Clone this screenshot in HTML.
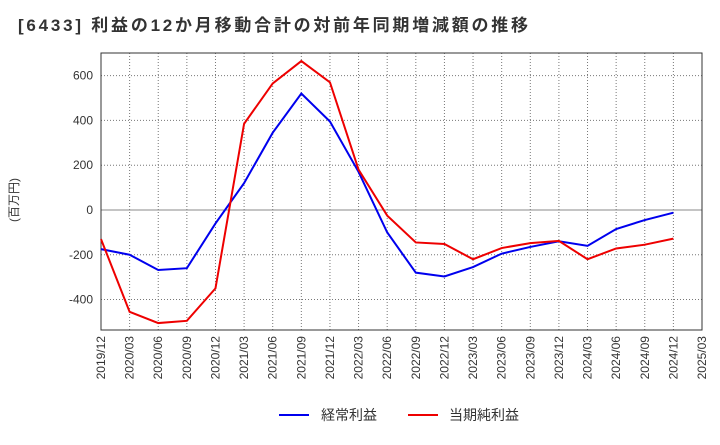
<!DOCTYPE html>
<html><head><meta charset="utf-8"><style>
body{margin:0;background:#fff;font-family:"Liberation Sans","Noto Sans CJK JP",sans-serif}
svg text{font-family:"Liberation Sans","Noto Sans CJK JP",sans-serif}
</style></head><body>
<svg id="c" width="720" height="440" xmlns="http://www.w3.org/2000/svg">
<text x="18" y="31" font-size="17" font-weight="bold" fill="#333" textLength="510" lengthAdjust="spacing">[6433]  利益の12か月移動合計の対前年同期増減額の推移</text>
<text transform="translate(18,200) rotate(-90)" text-anchor="middle" font-size="12" fill="#333">(百万円)</text>
<g id="grid"></g><g id="axes"></g><g id="series"></g>
<g>
<line x1="279" y1="415" x2="309" y2="415" stroke="#0000ee" stroke-width="2"/>
<text x="321" y="420" font-size="14" fill="#333">経常利益</text>
<line x1="408" y1="415" x2="438" y2="415" stroke="#ee0000" stroke-width="2"/>
<text x="449" y="420" font-size="14" fill="#333">当期純利益</text>
</g>
</svg>
<script>
const categories=["2019/12","2020/03","2020/06","2020/09","2020/12","2021/03","2021/06","2021/09","2021/12","2022/03","2022/06","2022/09","2022/12","2023/03","2023/06","2023/09","2023/12","2024/03","2024/06","2024/09","2024/12","2025/03"];
const ordinaryProfit=[-175,-200,-268,-260,-60,120,345,520,395,170,-100,-280,-297,-255,-195,-165,-140,-160,-85,-45,-12];
const netProfit=[-130,-455,-505,-495,-350,385,565,665,570,180,-25,-145,-152,-220,-170,-148,-138,-220,-172,-155,-128];
const yTicks=[600,400,200,0,-200,-400];
const L=101,R=702,T=53,B=330,yMax=701,yMin=-536;
const NS="http://www.w3.org/2000/svg";
function xs(i){return L+i*(R-L)/(categories.length-1);}
function ys(v){return T+(yMax-v)/(yMax-yMin)*(B-T);}
function mk(p,t,a){const e=document.createElementNS(NS,t);for(const k in a)e.setAttribute(k,a[k]);p.appendChild(e);return e;}
const g=document.getElementById('grid'),ax=document.getElementById('axes'),s=document.getElementById('series');
categories.forEach((c,i)=>{
 const l=mk(g,'line',{x1:xs(i),x2:xs(i),y1:T,y2:B,stroke:'#777','stroke-dasharray':'1,2'});
 
 
 const t=mk(ax,'text',{transform:`translate(${xs(i)+4},${B+6}) rotate(-90)`,'text-anchor':'end','font-size':'12',fill:'#333'});
 t.textContent=c;
 
 
});
yTicks.forEach(v=>{
 const l=mk(g,'line',{x1:L,x2:R,y1:ys(v),y2:ys(v),stroke:v===0?'#888':'#777','stroke-dasharray':v===0?'':'1,2'});
 
 
 const t=mk(ax,'text',{x:L-8,y:ys(v)+4,'text-anchor':'end','font-size':'12',fill:'#333'});
 t.textContent=v;
 
 
});
const fr=mk(ax,'rect',{x:L,y:T,width:R-L,height:B-T,fill:'none',stroke:'#333'});


function line(d,col,name){
 const p=mk(s,'polyline',{points:d.map((v,i)=>xs(i)+','+ys(v)).join(' '),fill:'none',stroke:col,'stroke-width':2});
 
 
}
line(ordinaryProfit,'#0000ee','ordinary-profit-line');
line(netProfit,'#ee0000','net-profit-line');
</script>
</body></html>
